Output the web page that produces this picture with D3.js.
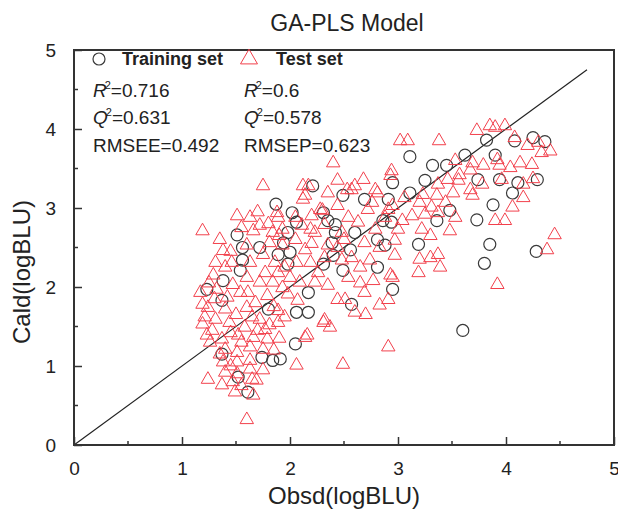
<!DOCTYPE html>
<html>
<head>
<meta charset="utf-8">
<script src="https://cdn.jsdelivr.net/npm/d3@7"></script>
<style>
  body { margin: 0; background: #fff; }
  text { font-family: "Liberation Sans", Arial, sans-serif; fill: #222; }
</style>
</head>
<body>
<div id="chart"></div>
<script>
const trainingSet = [
  [3.11,3.65],[4.28,2.45],[3.60,1.45],[3.85,2.54],[3.80,2.30],[3.19,2.54],[2.95,1.97],
  [4.08,3.85],[4.25,3.89],[4.36,3.84],[3.90,3.67],[3.94,3.36],[4.11,3.32],[4.29,3.36],
  [4.06,3.19],[3.88,3.04],[3.32,3.54],[3.45,3.54],[3.62,3.67],[3.82,3.86],[2.95,3.32],
  [3.25,3.35],[3.74,3.36],[3.11,3.19],[3.48,2.97],[3.36,2.84],[3.73,2.85],[2.94,2.82],
  [2.21,3.28],[1.87,3.05],[2.02,2.94],[2.35,2.84],[2.69,3.11],[2.42,2.69],[1.98,2.69],
  [2.60,2.69],[2.88,2.53],[2.40,2.40],[2.91,3.11],[2.17,1.93],[2.06,1.68],[2.17,1.68],
  [2.57,1.78],[2.49,2.21],[2.31,2.29],[2.81,2.25],[2.05,1.28],[1.91,1.09],[1.98,2.29],
  [1.51,2.66],[1.56,2.50],[1.72,2.50],[1.54,2.21],[1.38,2.08],[1.23,1.97],[1.37,1.83],
  [1.80,1.72],[1.37,1.15],[1.74,1.11],[1.84,1.07],[1.52,0.86],[1.61,0.67],[1.56,2.34],
  [1.89,2.41],[2.00,2.44],[2.39,2.56],[2.49,3.16],[2.56,2.47],[2.81,2.60],[2.86,2.84],
  [1.94,2.56],[2.06,2.82],[2.31,2.94],[2.42,2.79]
];

const testSet = [
  [3.90,4.02],[3.99,4.04],[4.08,3.89],[4.20,3.79],[4.30,3.83],[4.41,3.72],[4.33,3.70],
  [3.94,3.54],[4.04,3.51],[4.13,3.57],[4.24,3.55],[3.96,3.36],[4.16,3.30],[4.25,3.37],
  [4.16,3.13],[4.06,3.01],[3.99,2.84],[3.90,2.84],[4.45,2.66],[4.38,2.47],
  [3.02,3.85],[3.09,3.85],[3.38,3.85],[3.73,3.98],[3.85,4.04],[2.94,3.47],[3.53,3.60],
  [3.69,3.57],[3.79,3.54],[3.92,3.61],[3.57,3.42],[3.67,3.48],[3.37,3.30],[3.46,3.36],
  [3.56,3.35],[3.67,3.23],[3.78,3.30],[3.06,3.13],[3.23,3.17],[3.36,3.16],[3.51,3.19],
  [3.69,3.16],[2.95,3.03],[3.20,3.07],[3.31,3.01],[3.44,3.07],[3.04,2.84],[3.13,2.90],
  [3.25,2.92],[3.37,2.94],[3.53,2.88],[3.00,2.73],[3.22,2.73],[3.48,2.71],[3.30,2.65],
  [2.40,3.57],[2.17,3.28],[2.44,3.35],[2.68,3.36],[2.79,3.23],[2.93,3.41],[2.35,3.19],
  [2.57,3.23],[2.12,3.11],[2.28,2.98],[2.44,3.03],[2.76,3.07],[1.89,2.88],[2.05,2.88],
  [2.20,2.90],[2.54,2.88],[2.72,2.98],[2.88,2.88],[1.93,2.73],[2.11,2.78],[2.32,2.79],
  [2.63,2.82],[2.79,2.73],[2.91,2.98],[2.05,2.60],[2.23,2.69],[2.48,2.69],[2.69,2.56],
  [1.93,2.53],[2.14,2.47],[2.35,2.53],
  [1.89,2.18],[2.06,2.31],[2.26,2.18],[2.35,2.02],[2.23,2.06],[2.48,2.34],[2.51,1.84],
  [2.32,1.58],[2.37,1.49],[2.14,1.36],[2.07,1.83],[1.89,1.70],[1.89,1.55],[2.06,1.01],
  [2.49,1.02],[2.77,2.08],[2.83,1.77],[2.91,1.84],[2.91,1.24],[2.93,2.15],[1.93,1.99],
  [1.98,1.91],
  [2.97,2.59],[2.97,2.40],[3.20,2.35],[3.30,2.37],[3.37,2.41],[3.19,2.18],[3.39,2.25],
  [2.95,2.12],[3.92,2.03],
  [1.19,2.71],[1.38,2.46],[1.51,2.90],[1.63,2.88],[1.72,2.78],[1.75,3.28],[1.66,2.71],
  [1.60,2.53],[1.81,2.56],[1.84,2.69],[1.63,2.31],[1.75,2.41],[1.86,2.31],[1.29,2.15],
  [1.47,2.03],[1.60,2.12],[1.72,2.06],[1.84,2.06],[1.32,1.97],[1.19,1.78],[1.42,1.87],
  [1.61,1.93],[1.79,1.89],[1.24,1.74],
  [1.40,1.72],[1.60,1.74],[1.19,1.53],[1.31,1.59],[1.44,1.55],[1.58,1.49],[1.72,1.59],
  [1.81,1.52],[1.23,1.39],[1.37,1.34],[1.52,1.39],[1.66,1.36],[1.79,1.34],[1.40,1.21],
  [1.51,1.17],[1.63,1.24],[1.75,1.21],[1.38,1.05],[1.51,1.05],[1.63,1.07],[1.24,0.83],
  [1.40,0.92],[1.51,0.90],[1.63,0.96],[1.37,0.76],[1.49,0.67],[1.66,0.63],[1.69,0.82],
  [1.60,0.32],
  [2.12,3.28],[2.14,3.16],[2.53,3.23],[2.60,3.28],[2.81,3.19],[1.88,2.94],[2.19,2.73],
  [2.30,2.97],[1.26,1.30],[1.77,1.46],[1.47,0.80],[1.65,0.83],[2.16,1.39],[2.31,1.55],
  [2.44,1.84],[1.54,1.93],[1.68,1.80],[1.77,2.18],[1.95,2.25],[2.00,2.12],[2.09,2.06],
  [2.19,2.31],[2.32,2.37],[2.44,2.50],[2.57,2.37],[2.65,2.25],[2.54,2.12],[2.69,1.93],
  [2.60,1.68],[2.74,2.34],[2.83,2.50],[1.46,2.31],[1.31,2.31],[1.40,2.25],[1.17,1.93],
  [1.21,1.62],
  [1.25,2.05],[1.35,2.60],[1.45,2.45],[1.55,2.75],[1.70,2.95],[1.80,2.80],[1.90,2.65],
  [1.30,1.85],[1.50,1.65],[1.65,1.62],[1.85,1.75],[1.95,1.62],[1.28,1.45],[1.45,1.42],
  [1.70,1.45],[1.90,1.35],[1.35,1.15],[1.55,1.30],[1.85,1.20],[1.45,1.00],[1.75,0.95],
  [1.55,0.75],[2.20,2.55],[2.50,2.60],[2.65,2.05],[2.70,1.65]
];

const xTicks = [0, 1, 2, 3, 4, 5];
const yTicks = [0, 1, 2, 3, 4, 5];
const minorTicks = [0.5, 1.5, 2.5, 3.5, 4.5];
const fitLine = [0, 4.75];
const legendLabels = ["Training set", "Test set"];
const trainStats = [["R", "0.716"], ["Q", "0.631"], ["RMSEE", "0.492"]];
const testStats = [["R", "0.6"], ["Q", "0.578"], ["RMSEP", "0.623"]];

const width = 618;
const height = 511;
const plot = { left: 74, right: 614, top: 50, bottom: 445 };

const svg = d3
  .select("#chart")
  .append("svg")
  .attr("width", width)
  .attr("height", height);

const x = d3.scaleLinear().domain([0, 5]).range([plot.left, plot.right]);
const y = d3.scaleLinear().domain([0, 5]).range([plot.bottom, plot.top]);

const axisColor = "#333";
const red = "#f2404c";

// title
svg
  .append("text")
  .attr("x", 347)
  .attr("y", 31)
  .attr("text-anchor", "middle")
  .attr("font-size", "23px")
  .text("GA-PLS Model");

// fit line y = x
svg
  .append("line")
  .attr("x1", x(fitLine[0]))
  .attr("y1", y(fitLine[0]))
  .attr("x2", x(fitLine[1]))
  .attr("y2", y(fitLine[1]))
  .attr("stroke", "#222")
  .attr("stroke-width", 1.2);

// points
svg
  .append("g")
  .selectAll("circle")
  .data(trainingSet)
  .join("circle")
  .attr("cx", (d) => x(d[0]))
  .attr("cy", (d) => y(d[1]))
  .attr("r", 6)
  .attr("fill", "none")
  .attr("stroke", "#3a3a3a")
  .attr("stroke-width", 1.2);

const tri = d3.symbol(d3.symbolTriangle, 78);

svg
  .append("g")
  .selectAll("path")
  .data(testSet)
  .join("path")
  .attr("transform", (d) => `translate(${x(d[0])},${y(d[1])})`)
  .attr("d", tri)
  .attr("fill", "none")
  .attr("stroke", red)
  .attr("stroke-width", 1);

// axes: ticks point inward
const xAxis = svg
  .append("g")
  .attr("transform", `translate(0,${plot.bottom})`)
  .call(
    d3.axisBottom(x).tickValues(xTicks).tickFormat(d3.format("d"))
      .tickSize(-8).tickPadding(20).tickSizeOuter(0)
  );

xAxis
  .selectAll(".minor")
  .data(minorTicks)
  .join("line")
  .attr("x1", (d) => x(d))
  .attr("x2", (d) => x(d))
  .attr("y1", 0)
  .attr("y2", -4)
  .attr("stroke", axisColor)
  .attr("stroke-width", 1.5);

const yAxis = svg
  .append("g")
  .attr("transform", `translate(${plot.left},0)`)
  .call(
    d3.axisLeft(y).tickValues(yTicks).tickFormat(d3.format("d"))
      .tickSize(-8).tickPadding(18).tickSizeOuter(0)
  );

yAxis
  .selectAll(".minor")
  .data(minorTicks)
  .join("line")
  .attr("y1", (d) => y(d))
  .attr("y2", (d) => y(d))
  .attr("x1", 0)
  .attr("x2", 4)
  .attr("stroke", axisColor)
  .attr("stroke-width", 1.5);

svg.selectAll(".domain").remove();
svg.selectAll(".tick line").attr("stroke", axisColor).attr("stroke-width", 1.5);
svg
  .selectAll(".tick text")
  .attr("font-size", "19px")
  .attr("font-family", "Liberation Sans, Arial, sans-serif")
  .attr("fill", "#222");
xAxis.selectAll(".tick text").attr("dy", "0.5em");

// frame
svg
  .append("rect")
  .attr("x", plot.left)
  .attr("y", plot.top)
  .attr("width", plot.right - plot.left)
  .attr("height", plot.bottom - plot.top)
  .attr("fill", "none")
  .attr("stroke", axisColor)
  .attr("stroke-width", 2);

// axis titles
svg
  .append("text")
  .attr("x", 344)
  .attr("y", 504)
  .attr("text-anchor", "middle")
  .attr("font-size", "24px")
  .text("Obsd(logBLU)");

svg
  .append("text")
  .attr("transform", "rotate(-90)")
  .attr("x", -272)
  .attr("y", 30)
  .attr("text-anchor", "middle")
  .attr("font-size", "24px")
  .text("Cald(logBLU)");

// legend
svg
  .append("circle")
  .attr("cx", 99)
  .attr("cy", 59)
  .attr("r", 6)
  .attr("fill", "none")
  .attr("stroke", "#3a3a3a")
  .attr("stroke-width", 1.2);

svg
  .append("path")
  .attr("transform", "translate(249,59)")
  .attr("d", d3.symbol(d3.symbolTriangle, 125)())
  .attr("fill", "none")
  .attr("stroke", red)
  .attr("stroke-width", 1);

svg
  .selectAll(".legend-label")
  .data(legendLabels)
  .join("text")
  .attr("class", "legend-label")
  .attr("x", (d, i) => (i === 0 ? 122 : 276))
  .attr("y", 65)
  .attr("font-size", "18px")
  .attr("font-weight", "bold")
  .text((d) => d);

// statistics
function drawStats(stats, x0) {
  const rowY = [97, 124, 152];
  stats.forEach(([name, value], i) => {
    const t = svg
      .append("text")
      .attr("x", x0)
      .attr("y", rowY[i])
      .attr("font-size", "19px");
    if (name.length === 1) {
      t.append("tspan").attr("font-style", "italic").text(name);
      t.append("tspan").attr("dx", -2).attr("dy", -8).attr("font-size", "11px").text("2");
      t.append("tspan").attr("dy", 8).text("=" + value);
    } else {
      t.text(name + "=" + value);
    }
  });
}

drawStats(trainStats, 93);
drawStats(testStats, 244);
</script>
</body>
</html>
